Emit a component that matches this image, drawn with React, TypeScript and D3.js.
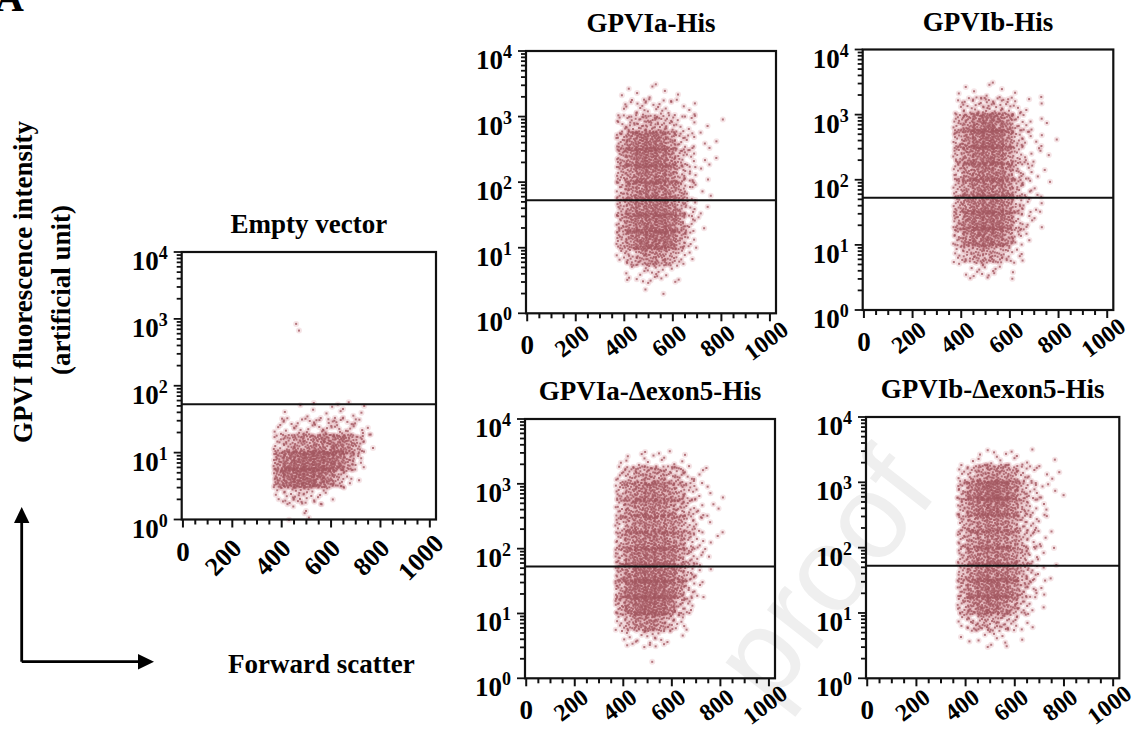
import React from "react";
import * as d3 from "d3";

// Forward-scatter bins (channel units, 0–1023 scale) and log-fluorescence rows (decades)
const fscBinStarts = [370, 410, 450, 490, 530, 570, 610, 650, 690, 730, 770];
const FSC_BIN = 40;
const logRowStarts = [3.25, 3.0, 2.75, 2.5, 2.25, 2.0, 1.75, 1.5, 1.25, 1.0, 0.75, 0.5, 0.25, 0.0];
const LOG_ROW = 0.25;

// Event counts per (log row, FSC bin)
const emptyVectorCounts = [
  [0, 0, 0, 0, 0, 0, 0, 0, 0, 0, 0],
  [0, 0, 0, 0, 0, 0, 0, 0, 0, 0, 0],
  [0, 0, 2, 0, 0, 0, 0, 0, 0, 0, 0],
  [0, 0, 0, 0, 0, 0, 0, 0, 0, 0, 0],
  [0, 0, 0, 0, 0, 0, 0, 0, 0, 0, 0],
  [0, 0, 0, 0, 0, 0, 0, 0, 0, 0, 0],
  [0, 0, 0, 0, 0, 0, 0, 0, 0, 0, 0],
  [1, 1, 1, 2, 2, 2, 3, 3, 2, 1, 0],
  [5, 7, 8, 8, 9, 10, 10, 9, 6, 2, 0],
  [14, 22, 28, 32, 38, 44, 46, 38, 18, 3, 0],
  [36, 56, 66, 70, 72, 68, 52, 30, 8, 1, 0],
  [40, 62, 76, 74, 64, 44, 22, 6, 1, 0, 0],
  [6, 12, 14, 10, 6, 3, 1, 0, 0, 0, 0],
  [0, 1, 2, 2, 1, 0, 0, 0, 0, 0, 0],
];

const gpviaCounts = [
  [1, 1, 2, 2, 2, 1, 1, 0, 0, 0, 0],
  [3, 5, 7, 7, 6, 4, 3, 2, 1, 0, 0],
  [8, 14, 20, 22, 18, 12, 6, 3, 2, 1, 1],
  [22, 38, 52, 54, 46, 30, 12, 5, 2, 1, 1],
  [24, 40, 56, 56, 50, 36, 16, 6, 2, 1, 1],
  [20, 34, 46, 50, 46, 36, 18, 7, 2, 1, 0],
  [18, 32, 42, 46, 46, 38, 22, 8, 2, 1, 0],
  [20, 34, 46, 50, 50, 42, 24, 8, 2, 1, 0],
  [22, 38, 52, 58, 58, 50, 28, 9, 2, 0, 0],
  [20, 36, 52, 60, 60, 50, 24, 6, 1, 0, 0],
  [8, 16, 26, 32, 30, 22, 10, 2, 0, 0, 0],
  [1, 3, 6, 7, 6, 4, 1, 0, 0, 0, 0],
  [0, 0, 1, 1, 1, 0, 0, 0, 0, 0, 0],
  [0, 0, 0, 0, 0, 0, 0, 0, 0, 0, 0],
];

const gpvibCounts = [
  [1, 1, 2, 2, 2, 1, 1, 0, 0, 0, 0],
  [5, 9, 12, 14, 12, 9, 5, 2, 1, 1, 0],
  [18, 32, 46, 56, 52, 34, 12, 4, 2, 1, 0],
  [20, 38, 54, 62, 56, 36, 12, 5, 3, 1, 1],
  [20, 36, 48, 50, 46, 32, 12, 5, 2, 1, 0],
  [18, 32, 42, 46, 44, 32, 14, 6, 2, 1, 0],
  [18, 32, 42, 46, 44, 34, 16, 6, 2, 1, 0],
  [20, 36, 46, 50, 48, 36, 16, 6, 2, 1, 0],
  [24, 42, 54, 58, 54, 38, 14, 5, 2, 0, 0],
  [20, 38, 50, 54, 46, 30, 10, 3, 1, 0, 0],
  [8, 18, 24, 26, 20, 12, 4, 1, 0, 0, 0],
  [1, 4, 6, 6, 4, 2, 1, 0, 0, 0, 0],
  [0, 0, 0, 0, 0, 0, 0, 0, 0, 0, 0],
  [0, 0, 0, 0, 0, 0, 0, 0, 0, 0, 0],
];

const gpviaDelta5Counts = [
  [1, 3, 3, 4, 3, 3, 2, 1, 0, 0, 0],
  [10, 18, 24, 28, 24, 20, 14, 8, 3, 1, 0],
  [16, 28, 38, 42, 38, 30, 20, 10, 4, 2, 1],
  [16, 28, 36, 38, 36, 30, 22, 12, 5, 2, 1],
  [16, 28, 36, 38, 36, 32, 24, 12, 5, 2, 1],
  [18, 32, 40, 42, 42, 38, 28, 14, 6, 2, 1],
  [22, 38, 48, 50, 48, 42, 30, 14, 6, 1, 0],
  [26, 44, 56, 58, 56, 48, 32, 14, 5, 1, 0],
  [28, 48, 62, 66, 62, 50, 30, 12, 3, 0, 0],
  [26, 44, 60, 66, 60, 44, 22, 6, 1, 0, 0],
  [10, 22, 34, 38, 32, 18, 7, 2, 0, 0, 0],
  [1, 3, 6, 7, 5, 2, 1, 0, 0, 0, 0],
  [0, 1, 0, 1, 0, 0, 0, 0, 0, 0, 0],
  [0, 0, 0, 0, 0, 0, 0, 0, 0, 0, 0],
];

const gpvibDelta5Counts = [
  [0, 1, 3, 4, 3, 3, 2, 1, 1, 1, 0],
  [8, 16, 28, 34, 30, 22, 12, 5, 2, 1, 1],
  [22, 40, 60, 66, 60, 42, 20, 7, 3, 2, 1],
  [20, 36, 52, 58, 52, 36, 18, 7, 3, 1, 0],
  [16, 28, 36, 38, 36, 28, 14, 7, 2, 1, 0],
  [16, 28, 36, 38, 36, 28, 14, 7, 3, 1, 0],
  [18, 32, 40, 42, 40, 32, 18, 8, 3, 1, 0],
  [18, 34, 44, 46, 44, 36, 20, 9, 3, 1, 0],
  [22, 38, 50, 54, 50, 38, 18, 8, 2, 0, 0],
  [18, 34, 46, 48, 40, 28, 12, 4, 1, 0, 0],
  [7, 14, 20, 20, 16, 10, 4, 1, 0, 0, 0],
  [1, 2, 4, 4, 3, 1, 1, 0, 0, 0, 0],
  [0, 0, 0, 0, 0, 0, 0, 0, 0, 0, 0],
  [0, 0, 0, 0, 0, 0, 0, 0, 0, 0, 0],
];

const panelTitles = ["Empty vector", "GPVIa-His", "GPVIb-His", "GPVIa-\u0394exon5-His", "GPVIb-\u0394exon5-His"];
const panelCounts = [emptyVectorCounts, gpviaCounts, gpvibCounts, gpviaDelta5Counts, gpvibDelta5Counts];

const xTickValues = [0, 200, 400, 600, 800, 1000];
const xMinorStep = 50;
const yDecadeExponents = [0, 1, 2, 3, 4];
const gateLevel = 53;

// Plot frames on the page, with the slant and size of each panel's x tick labels
const frames = [
  { left: 181.7, top: 252, width: 254.3, height: 267.5, labelAngle: 45, labelSize: 26, labelDrop: 44, labelShift: -3 },
  { left: 526, top: 51, width: 250, height: 262.3, labelAngle: 37, labelSize: 24, labelDrop: 34, labelShift: 1 },
  { left: 862.7, top: 49.5, width: 250.6, height: 260.5, labelAngle: 37, labelSize: 24, labelDrop: 34, labelShift: 1 },
  { left: 525, top: 419, width: 250, height: 259.3, labelAngle: 37, labelSize: 24, labelDrop: 33, labelShift: 1 },
  { left: 866, top: 417, width: 253.3, height: 261.3, labelAngle: 37, labelSize: 24, labelDrop: 33, labelShift: 1 },
];

const FONT = "'Liberation Serif', 'Times New Roman', serif";
const DOT = "#a35860";
const HAZE = "#e0aab0";

// Low-discrepancy sequence to lay events out evenly inside each bin
function halton(i: number, base: number) {
  let f = 1;
  let r = 0;
  while (i > 0) {
    f /= base;
    r += f * (i % base);
    i = Math.floor(i / base);
  }
  return r;
}

function eventsFromCounts(counts: number[][]) {
  const pts: [number, number][] = [];
  let k = 1;
  counts.forEach((row, r) => {
    row.forEach((n, c) => {
      for (let j = 0; j < n; j++, k++) {
        const fx = halton(k, 2) * 1.15 - 0.075;
        const fy = halton(k, 3) * 1.2 - 0.1;
        const fsc = fscBinStarts[c] + fx * FSC_BIN;
        const lg = logRowStarts[r] + fy * LOG_ROW;
        pts.push([fsc, Math.pow(10, lg)]);
      }
    });
  });
  return pts;
}

function Panel({ frame, title, counts }: { frame: typeof frames[0]; title: string; counts: number[][] }) {
  const { left, top, width, height, labelAngle, labelSize, labelDrop, labelShift } = frame;
  const bottom = top + height;
  const x = d3.scaleLinear().domain([-5, 1025]).range([left, left + width]);
  const y = d3.scaleLog().domain([1, 10000]).range([bottom, top]);
  const events = eventsFromCounts(counts);

  const yTicks: { v: number; major: boolean }[] = [];
  yDecadeExponents.forEach((e) => {
    const base = Math.pow(10, e);
    if (e === 4) {
      yTicks.push({ v: base, major: true });
      return;
    }
    for (let m = 1; m <= 9; m++) yTicks.push({ v: m * base, major: m === 1 });
  });
  const xTicks = d3.range(0, 1001, xMinorStep).map((v) => ({ v, major: v % 200 === 0 }));

  return (
    <g>
      <text x={left + width / 2} y={top - 19} textAnchor="middle" fontFamily={FONT} fontWeight="bold" fontSize={27}>
        {title}
      </text>
      <g>
        {events.map(([fx, fl], i) => (
          <circle key={"h" + i} cx={x(fx)} cy={y(fl)} r={3} fill={HAZE} opacity={0.32} />
        ))}
        {events.map(([fx, fl], i) => (
          <rect key={i} x={x(fx) - 1} y={y(fl) - 1} width={2} height={2} fill={DOT} opacity={0.8} />
        ))}
      </g>
      <line x1={left} x2={left + width} y1={y(gateLevel)} y2={y(gateLevel)} stroke="#111" strokeWidth={2} />
      <rect x={left} y={top} width={width} height={height} fill="none" stroke="#111" strokeWidth={2.2} />
      {yTicks.map((t, i) => (
        <line key={i} x1={left - (t.major ? 8 : 5)} x2={left} y1={y(t.v)} y2={y(t.v)} stroke="#111" strokeWidth={1.8} />
      ))}
      {xTicks.map((t, i) => (
        <line key={i} x1={x(t.v)} x2={x(t.v)} y1={bottom} y2={bottom + (t.major ? 8 : 5)} stroke="#111" strokeWidth={2} />
      ))}
      {yDecadeExponents.map((e) => (
        <text key={e} x={left - 14} y={y(Math.pow(10, e)) + 18} textAnchor="end" fontFamily={FONT} fontWeight="bold" fontSize={27}>
          <tspan>10</tspan>
          <tspan dy={-11} fontSize={18}>{e}</tspan>
        </text>
      ))}
      {xTickValues.map((v) =>
        v === 0 ? (
          <text key={v} x={x(v)} y={bottom + 41} textAnchor="middle" fontFamily={FONT} fontWeight="bold" fontSize={27}>
            {v}
          </text>
        ) : (
          <text
            key={v}
            transform={`translate(${x(v) + labelShift},${bottom + labelDrop}) rotate(${-labelAngle})`}
            textAnchor="middle"
            fontFamily={FONT}
            fontWeight="bold"
            fontSize={labelSize}
          >
            {v}
          </text>
        )
      )}
    </g>
  );
}

export default function App() {
  return (
    <svg width={1143} height={732} style={{ position: "fixed", left: 0, top: 0, background: "#fff" }}>
      <rect width={1143} height={732} fill="#fff" />
      <text
        transform="translate(855,600) rotate(-52)"
        textAnchor="middle"
        fontFamily="'Liberation Sans', Arial, sans-serif"
        fontSize={120}
        fill="#efefef"
      >
        proof
      </text>
      <text x={-5} y={11} fontFamily={FONT} fontWeight="bold" fontSize={40}>
        A
      </text>
      <text transform="translate(32,282) rotate(-90)" textAnchor="middle" fontFamily={FONT} fontWeight="bold" fontSize={27}>
        GPVI fluorescence intensity
      </text>
      <text transform="translate(70,290) rotate(-90)" textAnchor="middle" fontFamily={FONT} fontWeight="bold" fontSize={27}>
        (artificial unit)
      </text>
      <path d="M21.7,661.7 V520 M21.7,661.7 H140" stroke="#000" strokeWidth={2.8} fill="none" />
      <path d="M21.7,507 L14,523 L29.4,523 Z" fill="#000" />
      <path d="M154,661.7 L138,654 L138,669.4 Z" fill="#000" />
      <text x={228} y={673} fontFamily={FONT} fontWeight="bold" fontSize={27}>
        Forward scatter
      </text>
      {frames.map((f, i) => (
        <Panel key={i} frame={f} title={panelTitles[i]} counts={panelCounts[i]} />
      ))}
    </svg>
  );
}
